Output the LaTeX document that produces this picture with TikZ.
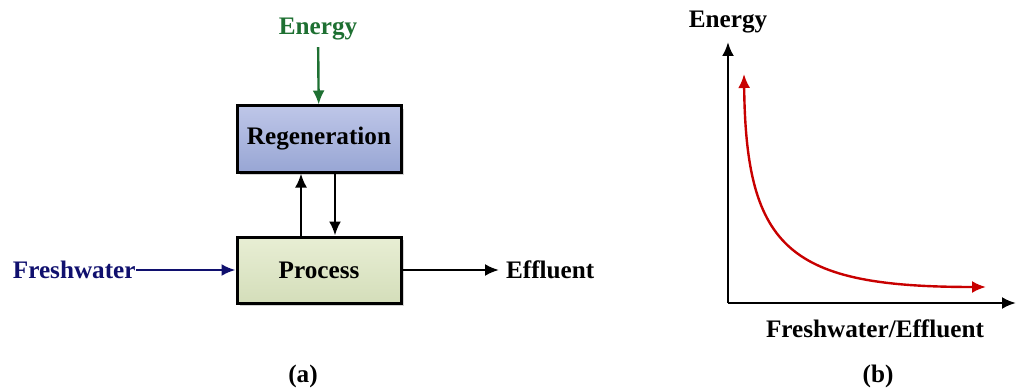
\documentclass[tikz,border=0pt]{standalone}
\usepackage{fontspec}
\setmainfont{Liberation Serif}
\usetikzlibrary{arrows.meta,shadows}

\definecolor{regtop}{RGB}{190,198,232}
\definecolor{regbot}{RGB}{152,166,212}
\definecolor{proctop}{RGB}{232,238,212}
\definecolor{procbot}{RGB}{212,222,186}
\definecolor{energygreen}{RGB}{30,112,50}
\definecolor{waterblue}{RGB}{16,16,110}
\definecolor{curvered}{RGB}{200,0,0}

\begin{document}
\begin{tikzpicture}[x=0.5pt,y=-0.5pt,>={Latex[length=7pt,width=6pt]},
  every node/.style={font=\fontsize{12.6}{15}\selectfont\bfseries},
  block/.style={draw,line width=1.5pt,minimum width=82pt,minimum height=33pt,
    drop shadow={shadow xshift=1.5pt,shadow yshift=-1.5pt,opacity=0.35}},
  flow/.style={->,line width=1.2pt}]
  \useasboundingbox (0,0) rectangle (1016,390);

  % (a) flow sheet
  \node[block,top color=regtop,bottom color=regbot]   (regen) at (319,139) {Regeneration};
  \node[block,top color=proctop,bottom color=procbot] (proc)  at (319,270) {Process};
  \node[text=energygreen] (energy) at (318,29)  {Energy};
  \node[text=waterblue,anchor=east,inner sep=0pt] (fresh) at (136,270) {Freshwater};
  \node[anchor=west] (effl) at (499,270) {Effluent};
  \node (capa) at (303,376) {(a)};

  \draw[flow,energygreen] (energy) -- (regen);
  \draw[flow,waterblue] (fresh) -- (proc);
  \draw[flow] (proc) -- (effl);
  \draw[flow] ([xshift=-9pt]proc.north) -- ([xshift=-9pt]regen.south);
  \draw[flow] ([xshift=8pt]regen.south) -- ([xshift=8pt]proc.north);

  % (b) energy vs freshwater
  \coordinate (orig) at (728,303);
  \coordinate (ytop) at (728,42);
  \coordinate (xend) at (1016,303);
  \draw[->,line width=1.3pt] (orig) -- (ytop);
  \draw[->,line width=1.3pt] (orig) -- (xend);
  \node (ylab) at (728,22) {Energy};
  \node (xlab) at (875,329) {Freshwater/Effluent};
  \node (capb) at (878,376) {(b)};

  \coordinate (ctop) at (744,74);
  \coordinate (cend) at (986,287);
  \draw[<->,curvered,line width=1.2pt] (ctop) .. controls (746,250) and (790,287) .. (cend);
\end{tikzpicture}
\end{document}
